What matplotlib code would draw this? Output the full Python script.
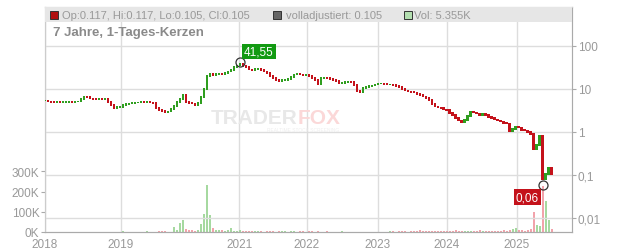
import numpy as np
import matplotlib
matplotlib.use("Agg")
import matplotlib.pyplot as plt
from matplotlib.patches import Rectangle

plt.rcParams['font.family'] = ['Liberation Sans', 'DejaVu Sans']

# closing prices, one bar every ~2 weeks (chart bar index 0..169)
closes = [5.4, 5.1, 4.98, 4.85, 4.98, 4.85, 4.98, 5.0, 5.1, 4.95,
          5.1, 5.1, 5.85, 6.7, 6.5, 6.0, 5.85, 5.7, 5.85, 5.7,
          5.85, 5.0, 4.24, 3.6, 3.8, 3.8, 4.24, 4.5, 4.6, 4.72,
          4.85, 4.85, 4.98, 4.85, 4.98, 4.85, 4.72, 3.6, 3.25, 3.08,
          2.92, 3.0, 3.43, 4.0, 4.98, 5.85, 7.25, 4.98, 4.72, 4.6,
          4.24, 4.72, 6.5, 10.0, 20.0, 22.3, 21.2, 22.3, 23.0, 22.3,
          23.6, 25.6, 27.7, 32.6, 35.3, 38.1, 34.3, 32.0, 28.5, 27.7,
          29.2, 30.0, 27.7, 25.6, 23.6, 20.0, 18.1, 16.2, 15.4, 16.2,
          16.2, 17.1, 19.0, 21.7, 22.3, 21.7, 21.2, 21.2, 20.0, 18.1,
          16.2, 13.1, 18.1, 18.5, 18.1, 17.1, 16.2, 15.4, 13.8, 13.8,
          14.6, 14.9, 14.6, 12.4, 9.0, 8.5, 10.5, 11.1, 11.7, 12.1,
          12.7, 13.4, 13.4, 13.1, 12.7, 12.7, 12.4, 11.7, 11.1, 10.0,
          9.2, 8.8, 8.5, 8.3, 7.6, 7.25, 6.7, 6.2, 5.55, 4.5,
          3.9, 3.7, 3.6, 3.35, 3.2, 2.77, 2.45, 2.12, 1.85, 1.7,
          1.9, 2.36, 2.92, 2.85, 2.7, 2.45, 2.62, 2.45, 2.2, 2.1,
          1.95, 1.85, 1.75, 1.62, 1.58, 1.05, 1.17, 1.35, 1.27, 1.13,
          1.08, 1.0, 0.9, 0.4, 0.5, 0.8, 0.08, 0.105, 0.15, 0.105]

# volume in thousands per bar
volumes = [0, 0, 0, 0, 0, 0, 0, 0, 0, 0,
           0, 0, 0, 0, 0, 0, 0, 0, 0, 0,
           0, 0, 0, 0, 1, 2, 3, 0, 1, 0,
           0, 0, 0, 0, 3, 2, 0, 0, 7, 5,
           6, 0, 2, 23, 12, 45, 61, 15, 10, 8,
           5, 12, 40, 89, 232, 86, 20, 10, 8, 12,
           6, 9, 18, 6, 5, 8, 4, 6, 5, 7,
           4, 3, 5, 2, 4, 3, 6, 2, 3, 4,
           5, 2, 3, 4, 2, 3, 5, 2, 4, 3,
           2, 3, 2, 1, 3, 2, 1, 0, 2, 3,
           1, 2, 1, 0, 2, 1, 0, 1, 0, 2,
           1, 0, 0, 0, 1, 3, 4, 2, 5, 3,
           6, 2, 4, 3, 5, 8, 3, 4, 6, 3,
           5, 7, 4, 3, 6, 4, 5, 10, 4, 3,
           5, 6, 3, 4, 5, 8, 4, 6, 5, 7,
           4, 6, 5, 8, 6, 9, 15, 20, 8, 10,
           7, 12, 15, 100, 36, 30, 230, 155, 60, 15]

year_labels = ["2018", "2019", "2021", "2022", "2023", "2024", "2025"]
year_pos = [0, 25.3, 64.7, 87.3, 111, 134, 157.3]
price_ticks = [100, 10, 1, 0.1, 0.01]
price_tick_labels = ["100", "10", "1", "0,1", "0,01"]
vol_ticks = [0, 100000, 200000, 300000]
vol_tick_labels = ["0K", "100K", "200K", "300K"]

peak = (65, 41.55, "41,55")
trough = (166, 0.06, "0,06")

UP = "#2f9e1f"
DOWN = "#c4121b"
GRID = "#dddddd"
TXT = "#999999"

fig = plt.figure(figsize=(6.32, 2.53), dpi=100)
ax_v = fig.add_axes([45 / 632, 20 / 253, 527 / 632, 225 / 253])
ax = ax_v.twinx()

idx = np.arange(len(closes))
c = np.array(closes)
o = np.concatenate([[c[0]], c[:-1]])
up = c >= o
cols = np.where(up, UP, DOWN)

# volume
vcols = np.where(up, "#a6d9a0", "#f2a3ab")
ax_v.bar(idx, np.array(volumes) * 1000, width=0.55, color=vcols, linewidth=0)
ax_v.set_ylim(0, 1115000)
ax_v.set_yticks(vol_ticks)
ax_v.set_yticklabels(vol_tick_labels)

# price candles (body from previous close to close, a little padding for wicks)
hi = np.maximum(o, c) * 1.045
lo = np.minimum(o, c) / 1.045
ax.bar(idx, hi - lo, bottom=lo, width=0.95, color=cols, linewidth=0, zorder=3)
ax.set_yscale("log")
ax.set_ylim(0.00472, 807)
ax.set_yticks(price_ticks)
ax.set_yticklabels(price_tick_labels)
ax.minorticks_off()
ax.set_xlim(0, 175.7)

for y in price_ticks:
    ax.axhline(y, color=GRID, lw=1, zorder=0)
for xp in year_pos:
    ax_v.axvline(xp, color=GRID, lw=1, zorder=0)

ax_v.set_xticks(year_pos)
ax_v.set_xticklabels(year_labels)

for a in (ax, ax_v):
    for s in a.spines.values():
        s.set_color("#cccccc")
    a.tick_params(colors="#aaaaaa", labelcolor=TXT, labelsize=8.5, length=3, width=0.8)
ax.spines["right"].set_color("#aaaaaa")
ax.spines["bottom"].set_color("#aaaaaa")
ax_v.spines["bottom"].set_color("#aaaaaa")
ax_v.tick_params(axis="x", length=0, pad=4.5)
ax_v.tick_params(axis="y", pad=1)
ax.tick_params(axis="y", pad=1)

# header band
ax.add_patch(Rectangle((0, 0.933), 1, 0.067, transform=ax.transAxes,
                       facecolor="#e6e6e6", edgecolor="none", zorder=4))
hy = 0.966
ax.plot([8.5 / 527], [hy], marker="s", ms=5.5, mfc="#b01010", mec="#333333",
        mew=0.7, transform=ax.transAxes, clip_on=False, zorder=5)
ax.text(17 / 527, hy, "Op:0.117, Hi:0.117, Lo:0.105, Cl:0.105", transform=ax.transAxes,
        va="center", fontsize=8, color=TXT, zorder=5)
ax.plot([231.5 / 527], [hy], marker="s", ms=5.5, mfc="#666666", mec="#333333",
        mew=0.7, transform=ax.transAxes, clip_on=False, zorder=5)
ax.text(241 / 527, hy, "volladjustiert: 0.105", transform=ax.transAxes,
        va="center", fontsize=8, color=TXT, zorder=5)
ax.plot([363 / 527], [hy], marker="s", ms=5.5, mfc="#b3dfb0", mec="#333333",
        mew=0.7, transform=ax.transAxes, clip_on=False, zorder=5)
ax.text(369 / 527, hy, "Vol: 5.355K", transform=ax.transAxes,
        va="center", fontsize=8, color=TXT, zorder=5)

ax.text(8 / 527, 0.889, "7 Jahre, 1-Tages-Kerzen", transform=ax.transAxes,
        va="center", fontsize=9.5, fontweight="bold", color="#8a8a8a", zorder=5)

# watermark
ax.text(0.48, 0.51, "TRADER", transform=ax.transAxes, ha="right", va="center",
        fontsize=15, fontweight="bold", color="#e8e8e8", zorder=1)
ax.text(0.48, 0.51, "FOX", transform=ax.transAxes, ha="left", va="center",
        fontsize=15, fontweight="bold", color="#fbd8d8", zorder=1)
ax.text(0.49, 0.455, "REALTIME STOCK SCREENING", transform=ax.transAxes, ha="center",
        va="center", fontsize=3.5, color="#eeeeee", zorder=1)

# extreme markers
for (px, pv, lab), fc, off, ha in [(peak, "#129a12", (3, 8), "left"),
                                    (trough, DOWN, (-3, -9), "right")]:
    ax.plot([px], [pv], marker="o", ms=6.5, mfc="none", mec="#333333", mew=0.9, zorder=6)
    ax.annotate(lab, (px, pv), xytext=off, textcoords="offset points", ha=ha,
                va="center", fontsize=8.5, color="white", zorder=7,
                bbox=dict(boxstyle="square,pad=0.15", fc=fc, ec="none"))

fig.savefig("out.png", dpi=100)
